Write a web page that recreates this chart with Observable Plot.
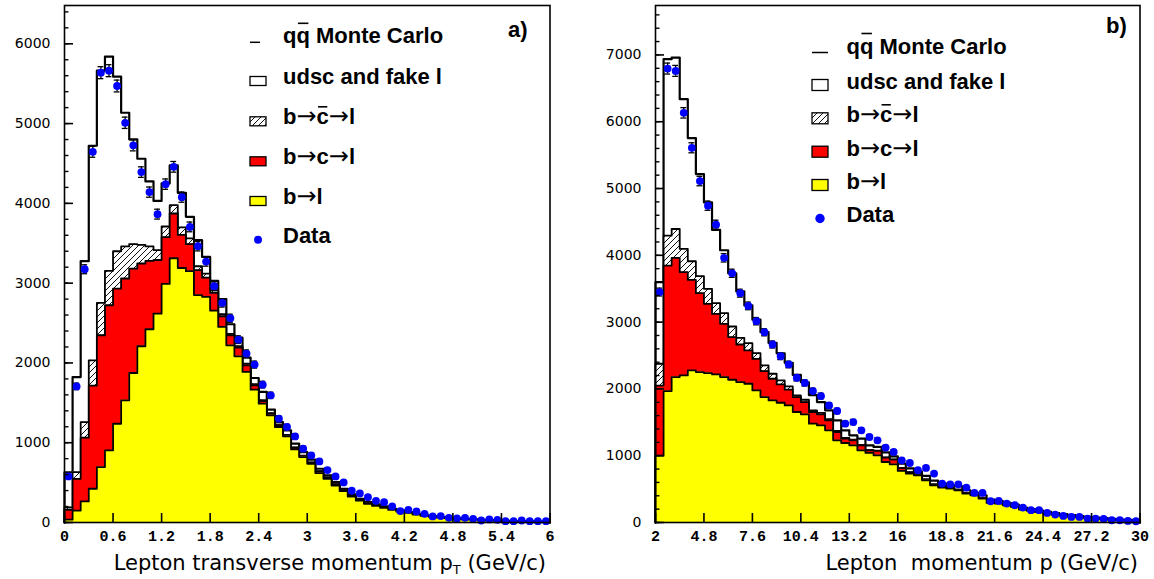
<!DOCTYPE html>
<html><head><meta charset="utf-8">
<script src="https://cdn.jsdelivr.net/npm/d3@7"></script>
<script src="https://cdn.jsdelivr.net/npm/@observablehq/plot@0.6"></script>
<style>
html,body{margin:0;padding:0;background:#fff;}
#wrap{position:relative;width:1154px;height:579px;overflow:hidden;}
#wrap > svg{position:absolute;top:0;}
</style></head><body>
<svg width="0" height="0" style="position:absolute">
 <defs><pattern id="hatch" patternUnits="userSpaceOnUse" width="6" height="6">
   <rect width="6" height="6" fill="white"/>
   <path d="M0,6L6,0M-1.5,1.5L1.5,-1.5M4.5,7.5L7.5,4.5" stroke="#111" stroke-width="1"/>
 </pattern></defs></svg>
<div id="wrap"></div>
<script>
// ---------- Panel a: lepton transverse momentum, 60 bins, 0..6 GeV/c ----------
const ptRange = [0, 6];
const ptBl     = [35,150,264,423,695,904,1238,1531,1874,2209, 2422,2618,2990,3312,3190,3150,2850,2828,2655,2451, 2221,2083,1887,1665,1489,1343,1197,1080,916,820, 736,619,548,464,395,326,276,234,209,184, 159,138,120,100,83,71,62,54,46,40, 35,30,27,23,19,17,15,13,11,9];
const ptBcl    = [125,398,799,1292,1652,1819,1694,1527,1309,1037, 857,672,586,561,415,340,312,242,222,134, 126,109,83,55,34,21,21,12,21,13, 13,21,14,14,10,8,7,6,5,4, 4,3,3,3,2,2,1,1,1,1, 1,1,0,0,1,0,0,0,0,0];
const ptBcbarl = [30,84,196,318,405,431,468,402,307,234, 181,125,134,104,95,70,50,50,34,25, 18,18,20,15,12,8,7,6,5,5, 3,3,3,2,2,2,2,1,1,1, 1,1,1,0,0,0,0,0,0,0, 0,0,0,0,0,0,0,0,0,0];
const ptUdsc   = [440,1191,2016,2689,2911,2684,2188,1676,1312,1079, 815,616,540,498,432,271,326,209,117,190, 120,107,76,76,101,42,34,57,46,45, 35,31,25,26,16,16,12,14,11,12, 8,9,6,6,5,4,4,4,3,2, 2,2,2,2,1,1,1,1,1,1];
const ptData   = [577,1706,3174,4646,5638,5663,5471,5010,4727,4392, 4141,3865,4241,4458,4078,3705,3463,3270,2961,2752, 2560,2292,2117,1979,1728,1594,1301,1197,1079,925, 841,766,657,577,502,398,364,318,272,255, 201,143,159,138,109,76,80,59,50,59, 46,25,38,34,17,17,25,17,17,17];
const ptErr    = [24,41,56,68,75,75,74,71,69,66, 64,62,65,67,64,61,59,57,54,52, 51,48,46,44,42,40,36,35,33,30, 29,28,26,24,22,20,19,18,16,16, 14,12,13,12,10,9,9,8,7,8, 7,5,6,6,4,4,5,4,4,4];
const ptTicks      = [0, 0.6, 1.2, 1.8, 2.4, 3, 3.6, 4.2, 4.8, 5.4, 6];
const ptTickLabels = ["0","0.6","1.2","1.8","2.4","3","3.6","4.2","4.8","5.4","6"];
const ptYTicks     = [0,1000,2000,3000,4000,5000,6000];

// ---------- Panel b: lepton momentum, 60 bins, 2..30 GeV/c ----------
const pRange = [2, 30];
const pBl     = [1000,1968,2177,2202,2277,2252,2237,2217,2177,2137, 2102,2077,1978,1878,1828,1793,1753,1654,1619,1479, 1454,1380,1230,1190,1155,1081,1041,1006,906,871, 772,732,707,632,558,523,508,483,433,408, 358,293,283,258,234,194,174,154,134,119, 104,90,80,70,60,50,40,35,30,25];
const pBcl    = [1050,1878,1784,1545,1355,1181,1036,907,797,638, 563,499,473,389,324,274,235,224,184,175, 165,149,125,65,75,74,40,65,65,70, 43,18,13,13,12,10,7,7,7,5, 4,3,3,2,2,2,2,1,1,1, 1,1,1,1,1,1,1,0,0,0];
const pBcbarl = [327,449,433,348,279,254,225,159,160,159, 100,109,85,84,75,60,49,25,35,26, 21,19,15,10,10,8,7,5,4,4, 3,2,2,2,2,2,1,1,1,1, 1,1,1,1,1,1,1,1,1,1, 0,0,0,0,0,0,0,0,0,0];
const pUdsc   = [1223,2641,2566,2243,1844,1530,1294,1097,942,796, 695,565,500,499,461,406,353,307,262,228, 163,131,159,115,65,92,67,55,75,46, 63,58,40,50,55,48,42,52,42,29, 45,46,36,32,32,27,22,23,23,18, 19,19,14,14,14,14,14,10,10,10];
const pData   = [3450,6796,6761,6133,5610,5112,4743,4459,3963,3731, 3433,3243,3014,2848,2665,2489,2366,2167,2090,1968, 1893,1753,1669,1479,1504,1380,1280,1230,1121,1056, 931,891,782,817,732,582,572,572,523,443, 443,318,323,283,258,224,184,184,144,119, 99,84,84,59,59,54,34,34,24,19];
const pErr    = [59,82,82,78,75,71,69,67,63,61, 59,57,55,53,52,50,49,47,46,44, 44,42,41,38,39,37,36,35,33,32, 31,30,28,29,27,24,24,24,23,21, 21,18,18,17,16,15,14,14,12,11, 10,9,9,8,8,7,6,6,5,4];
const pTicks      = [2, 4.8, 7.6, 10.4, 13.2, 16, 18.8, 21.6, 24.4, 27.2, 30];
const pTickLabels = ["2","4.8","7.6","10.4","13.2","16","18.8","21.6","24.4","27.2","30"];
const pYTicks     = [0,1000,2000,3000,4000,5000,6000,7000];

// ---------- legend / titles ----------
// each label is a list of [text, isArrow]
const legendLabels = [
  [["qq Monte Carlo"]],
  [["udsc and fake l"]],
  [["b"], ["\u2192", true], ["c"], ["\u2192", true], ["l"]],
  [["b"], ["\u2192", true], ["c"], ["\u2192", true], ["l"]],
  [["b"], ["\u2192", true], ["l"]],
  [["Data"]]
];
const legendBar    = [1, -1, 2, -1, -1, -1];   // character that carries an over-bar
const legendKinds  = ["line", "box", "box", "box", "box", "dot"];
const legendFills  = ["none", "white", "url(#hatch)", "#ff0000", "#ffff00", "#0000ff"];

function histPanel(cfg) {
  const {range:[lo,hi], ymax, bl, bcl, bcbarl, udsc, data, err, xTicks, xLabels, yTicks, yMinorStep,
         marginLeft, marginRight, cap} = cfg;
  const n = bl.length, w = (hi - lo) / n;
  const edges = d3.range(n + 1).map(i => lo + i * w);
  const idx = d3.range(n);
  const center = i => lo + (i + 0.5) * w;
  const c1 = bl.slice();
  const c2 = c1.map((v, i) => v + bcl[i]);
  const c3 = c2.map((v, i) => v + bcbarl[i]);
  const c4 = c3.map((v, i) => v + udsc[i]);
  const areaPts = cum => [...cum.map((y, i) => ({x: edges[i], y})), {x: hi, y: cum[n - 1]}];
  const linePts = cum => [{x: lo, y: 0}, ...areaPts(cum), {x: hi, y: 0}];
  const levels = [[c4, "white", 2.2], [c3, "url(#hatch)", 1.8], [c2, "#ff0000", 1.8], [c1, "#ffff00", 1.8]];
  const yMinor = d3.range(0, ymax, yMinorStep);
  const labelOf = new Map(xTicks.map((t, i) => [t, xLabels[i]]));
  return Plot.plot({
    width: 577, height: 579,
    marginTop: 5, marginBottom: 57, marginLeft, marginRight,
    x: {domain: [lo, hi], label: null},
    y: {domain: [0, ymax], label: null},
    style: {background: "transparent", overflow: "visible"},
    marks: [
      ...levels.flatMap(([cum, fill, sw]) => [
        Plot.areaY(areaPts(cum), {x: "x", y1: 0, y2: "y", curve: "step-after", fill}),
        Plot.lineY(linePts(cum), {x: "x", y: "y", curve: "step-after", stroke: "black", strokeWidth: sw})
      ]),
      Plot.ruleX(idx, {x: center, y1: i => data[i] - err[i], y2: i => data[i] + err[i], stroke: "black", strokeWidth: 1.3}),
      Plot.ruleY(idx, {y: i => data[i] + err[i], x1: i => center(i) - cap, x2: i => center(i) + cap, stroke: "black", strokeWidth: 1.3}),
      Plot.ruleY(idx, {y: i => data[i] - err[i], x1: i => center(i) - cap, x2: i => center(i) + cap, stroke: "black", strokeWidth: 1.3}),
      Plot.dot(idx, {x: center, y: i => data[i], r: 3.9, fill: "#0000ff", stroke: null}),
      Plot.axisY({ticks: yMinor, tickSize: -4.5, tickFormat: () => "", strokeWidth: 1.4}),
      Plot.axisY({ticks: yTicks, tickSize: -9, tickFormat: () => "", strokeWidth: 1.6}),
      Plot.axisY({ticks: yTicks, tickSize: 0, tickPadding: 14, fontFamily: "DejaVu Sans", fontSize: 14, fill: "#000", tickFormat: d => String(d)}),
      Plot.axisX({ticks: xTicks, tickSize: -9, tickFormat: () => "", strokeWidth: 1.6}),
      Plot.axisX({ticks: xTicks, tickSize: 0, tickPadding: 8, fontFamily: "Liberation Mono", fontWeight: "bold", fontSize: 15, fill: "#000", tickFormat: d => labelOf.get(d)}),
      Plot.frame({stroke: "black", strokeWidth: 1.6})
    ]
  });
}

const wrap = document.getElementById("wrap");
const plotA = histPanel({range: ptRange, ymax: 6480, bl: ptBl, bcl: ptBcl, bcbarl: ptBcbarl, udsc: ptUdsc,
  data: ptData, err: ptErr, xTicks: ptTicks, xLabels: ptTickLabels, yTicks: ptYTicks, yMinorStep: 200,
  marginLeft: 64, marginRight: 27.5, cap: 0.036});
plotA.style.position = "absolute"; plotA.style.left = "0px"; plotA.style.top = "0px";
wrap.appendChild(plotA);
const plotB = histPanel({range: pRange, ymax: 7740, bl: pBl, bcl: pBcl, bcbarl: pBcbarl, udsc: pUdsc,
  data: pData, err: pErr, xTicks: pTicks, xLabels: pTickLabels, yTicks: pYTicks, yMinorStep: 200,
  marginLeft: 78, marginRight: 14.5, cap: 0.17});
plotB.style.position = "absolute"; plotB.style.left = "577px"; plotB.style.top = "0px";
wrap.appendChild(plotB);

// ---------- overlay: legends, panel letters, axis titles ----------
const ov = d3.select(wrap).append("svg").attr("width", 1154).attr("height", 579)
  .style("left", "0px").style("pointer-events", "none");

function legend(cfg) {
  const {symX, symW, lineW, textX, baselines, boxH, dotR, letter, letterX, letterY} = cfg;
  const g = ov.append("g");
  legendLabels.forEach((parts, k) => {
    const b = baselines[k];
    const kind = legendKinds[k];
    if (kind === "line") {
      g.append("line").attr("x1", symX).attr("x2", symX + lineW).attr("y1", b - 1).attr("y2", b - 1)
        .attr("stroke", "black").attr("stroke-width", 1.5);
    } else if (kind === "box") {
      g.append("rect").attr("x", symX).attr("y", b + 1.5 - boxH).attr("width", symW).attr("height", boxH)
        .attr("fill", legendFills[k]).attr("stroke", "black").attr("stroke-width", 1.3);
    } else {
      g.append("circle").attr("cx", symX + symW / 2).attr("cy", b - 3.5).attr("r", dotR).attr("fill", legendFills[k]);
    }
    const t = g.append("text").attr("x", textX).attr("y", b)
      .attr("font-family", "Liberation Sans, Arial, sans-serif").attr("font-weight", "bold")
      .attr("font-size", 22).attr("fill", "#000");
    parts.forEach(([s, arrow]) => {
      const ts = t.append("tspan").text(s);
      if (arrow) ts.attr("font-family", "DejaVu Sans").attr("font-weight", "normal").attr("font-size", 24);
    });
    if (legendBar[k] >= 0) {
      const e = t.node().getExtentOfChar(legendBar[k]);
      const yb = k === 0 ? b - 20 : b - 17.5;
      g.append("line").attr("x1", e.x + 1.5).attr("x2", e.x + e.width - 1.5).attr("y1", yb).attr("y2", yb)
        .attr("stroke", "black").attr("stroke-width", 1.6);
    }
  });
  g.append("text").attr("x", letterX).attr("y", letterY)
    .attr("font-family", "Liberation Sans, Arial, sans-serif").attr("font-weight", "bold")
    .attr("font-size", 22).text(letter);
}
legend({symX: 250, symW: 16, lineW: 10, textX: 283, baselines: [43.3, 84, 124.3, 164.3, 204, 243.3],
        boxH: 9, dotR: 4, letter: "a)", letterX: 508, letterY: 37});
legend({symX: 812, symW: 16, lineW: 16, textX: 846.5, baselines: [53.5, 89, 122.3, 155.7, 189, 222],
        boxH: 11, dotR: 4.7, letter: "b)", letterX: 1106, letterY: 33});

function axisTitle(xRight, parts) {
  const t = ov.append("text").attr("x", xRight).attr("y", 570).attr("text-anchor", "end")
    .attr("font-family", "DejaVu Sans, sans-serif").attr("font-weight", "normal").attr("font-size", 21)
    .attr("fill", "#000").style("white-space", "pre");
  parts.forEach(([s, sub]) => {
    const ts = t.append("tspan").text(s);
    if (sub) ts.attr("font-size", 13).attr("dy", 4);
    else if (sub === false) ts.attr("dy", -4);
  });
}
axisTitle(546, [["Lepton transverse momentum p"], ["T", true], [" (GeV/c)", false]]);
axisTitle(1138, [["Lepton  momentum p (GeV/c)"]]);
</script>
</body></html>
